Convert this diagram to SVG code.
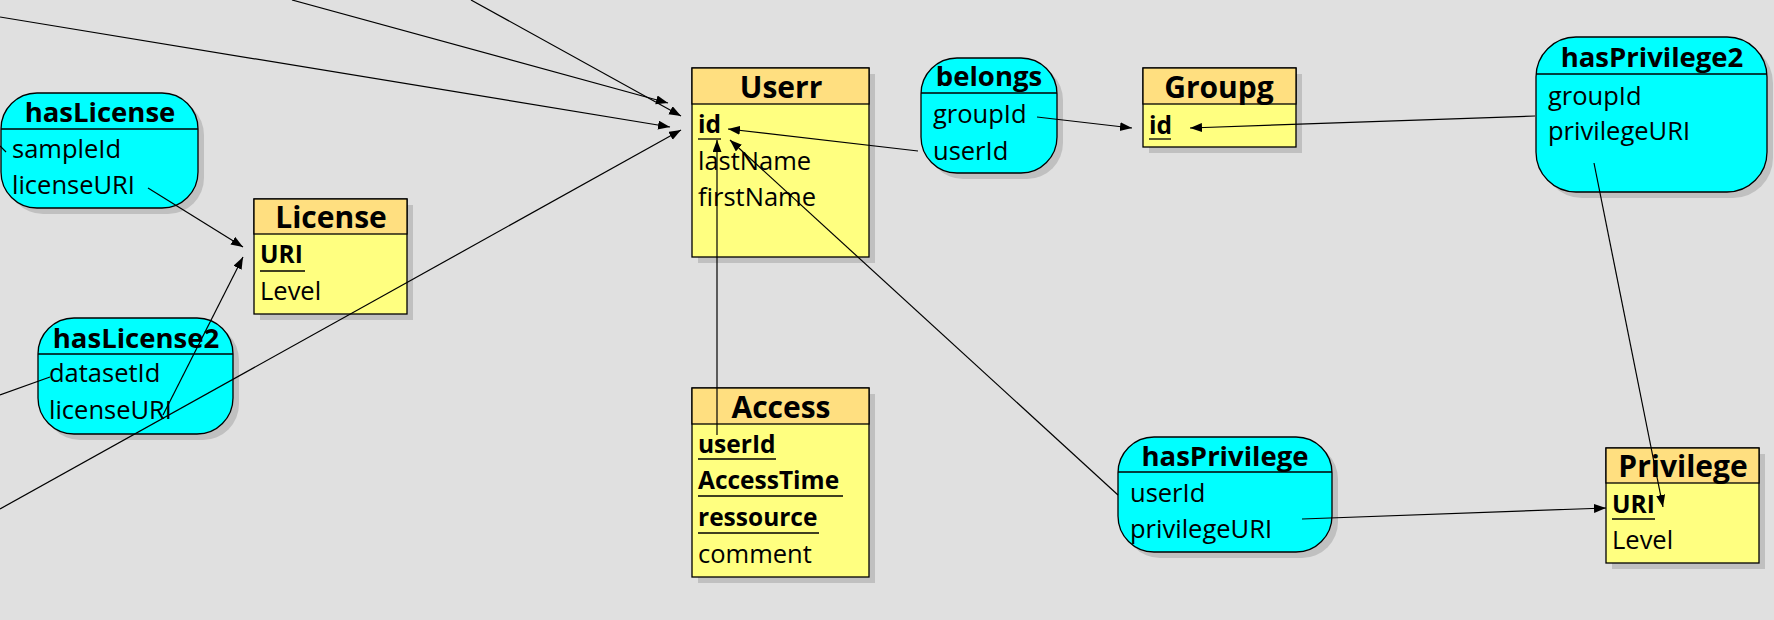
<svg xmlns="http://www.w3.org/2000/svg" width="1774" height="620" viewBox="0 0 1774 620">
<defs>
<marker id="arr" markerUnits="userSpaceOnUse" markerWidth="13" markerHeight="10" refX="12" refY="4.5" orient="auto">
<path d="M0,0 L12,4.5 L0,9 z" fill="#000"/>
</marker>
<style>
.ent-sh{fill:#c0c0c0}
.ent-h{fill:#ffdf80;stroke:#000;stroke-width:1.3}
.ent-b{fill:#ffff80;stroke:#000;stroke-width:1.3}
.rel{fill:#00ffff;stroke:#000;stroke-width:1.3}
.rel-sh{fill:#c0c0c0}
.div{stroke:#000;stroke-width:1.3}
.et{font-family:"Open Sans","Liberation Sans",sans-serif;font-weight:bold;font-size:30px;text-anchor:middle;fill:#000}
.rt{font-family:"Open Sans","Liberation Sans",sans-serif;font-weight:bold;font-size:27.5px;text-anchor:middle;fill:#000}
.f{font-family:"Open Sans","Liberation Sans",sans-serif;font-size:25.5px;fill:#000}
.k{font-family:"Open Sans","Liberation Sans",sans-serif;font-size:24.5px;font-weight:bold;fill:#000}
.ul{stroke:#000;stroke-width:1.3}
.c{stroke:#000;stroke-width:1.2;fill:none}
.ca{stroke:#000;stroke-width:1.2;fill:none;marker-end:url(#arr)}
</style>
</defs>
<rect width="1774" height="620" fill="#e0e0e0"/>

<g id="hasLicense">
<rect class="rel-sh" x="7" y="99" width="197" height="115" rx="36"/>
<rect class="rel" x="1" y="93" width="197" height="115" rx="36"/>
<line class="div" x1="1" y1="129" x2="198" y2="129"/>
<text class="rt" x="100" y="122">hasLicense</text>
<text class="f" x="12" y="158">sampleId</text>
<text class="f" x="12" y="194">licenseURI</text>
</g>

<g id="hasLicense2">
<rect class="rel-sh" x="44" y="324" width="195" height="116" rx="36"/>
<rect class="rel" x="38" y="318" width="195" height="116" rx="36"/>
<line class="div" x1="38" y1="354" x2="233" y2="354"/>
<text class="rt" x="136" y="348">hasLicense2</text>
<text class="f" x="49" y="382">datasetId</text>
<text class="f" x="49" y="419">licenseURI</text>
</g>

<g id="License">
<rect class="ent-sh" x="260" y="205" width="153" height="115"/>
<rect class="ent-b" x="254" y="199" width="153" height="115"/>
<rect class="ent-h" x="254" y="199" width="153" height="35"/>
<text class="et" x="331" y="228">License</text>
<text class="k" x="260" y="263">URI</text>
<line class="ul" x1="260" y1="271" x2="305" y2="271"/>
<text class="f" x="260" y="300">Level</text>
</g>

<g id="Userr">
<rect class="ent-sh" x="698" y="74" width="177" height="189"/>
<rect class="ent-b" x="692" y="68" width="177" height="189"/>
<rect class="ent-h" x="692" y="68" width="177" height="36"/>
<text class="et" x="781" y="98">Userr</text>
<text class="k" x="698" y="133">id</text>
<line class="ul" x1="698" y1="139" x2="721" y2="139"/>
<text class="f" x="698" y="170">lastName</text>
<text class="f" x="698" y="206">firstName</text>
</g>

<g id="belongs">
<rect class="rel-sh" x="927" y="64" width="136" height="115" rx="36"/>
<rect class="rel" x="921" y="58" width="136" height="115" rx="36"/>
<line class="div" x1="921" y1="93" x2="1057" y2="93"/>
<text class="rt" x="989" y="86">belongs</text>
<text class="f" x="933" y="123">groupId</text>
<text class="f" x="933" y="160">userId</text>
</g>

<g id="Groupg">
<rect class="ent-sh" x="1149" y="74" width="153" height="79"/>
<rect class="ent-b" x="1143" y="68" width="153" height="79"/>
<rect class="ent-h" x="1143" y="68" width="153" height="36"/>
<text class="et" x="1219" y="98">Groupg</text>
<text class="k" x="1149" y="134">id</text>
<line class="ul" x1="1149" y1="139" x2="1171" y2="139"/>
</g>

<g id="hasPrivilege2">
<rect class="rel-sh" x="1542" y="43" width="231" height="155" rx="40"/>
<rect class="rel" x="1536" y="37" width="231" height="155" rx="40"/>
<line class="div" x1="1536" y1="74" x2="1767" y2="74"/>
<text class="rt" x="1652" y="67">hasPrivilege2</text>
<text class="f" x="1548" y="105">groupId</text>
<text class="f" x="1548" y="140">privilegeURI</text>
</g>

<g id="Access">
<rect class="ent-sh" x="698" y="394" width="177" height="189"/>
<rect class="ent-b" x="692" y="388" width="177" height="189"/>
<rect class="ent-h" x="692" y="388" width="177" height="36"/>
<text class="et" x="781" y="418">Access</text>
<text class="k" x="698" y="453">userId</text>
<line class="ul" x1="698" y1="459" x2="776" y2="459"/>
<text class="k" x="698" y="489">AccessTime</text>
<line class="ul" x1="698" y1="496" x2="843" y2="496"/>
<text class="k" x="698" y="526">ressource</text>
<line class="ul" x1="698" y1="533" x2="819" y2="533"/>
<text class="f" x="698" y="563">comment</text>
</g>

<g id="hasPrivilege">
<rect class="rel-sh" x="1124" y="443" width="214" height="115" rx="36"/>
<rect class="rel" x="1118" y="437" width="214" height="115" rx="36"/>
<line class="div" x1="1118" y1="472" x2="1332" y2="472"/>
<text class="rt" x="1225" y="466">hasPrivilege</text>
<text class="f" x="1130" y="502">userId</text>
<text class="f" x="1130" y="538">privilegeURI</text>
</g>

<g id="Privilege">
<rect class="ent-sh" x="1612" y="454" width="153" height="115"/>
<rect class="ent-b" x="1606" y="448" width="153" height="115"/>
<rect class="ent-h" x="1606" y="448" width="153" height="35"/>
<text class="et" x="1683" y="477">Privilege</text>
<text class="k" x="1612" y="513">URI</text>
<line class="ul" x1="1612" y1="519" x2="1655" y2="519"/>
<text class="f" x="1612" y="549">Level</text>
</g>

<g id="connectors">
<line class="ca" x1="0" y1="17" x2="670" y2="127"/>
<line class="ca" x1="292" y1="0" x2="668" y2="103"/>
<line class="ca" x1="471" y1="0" x2="681" y2="116"/>
<line class="ca" x1="0" y1="509" x2="681" y2="130"/>
<line class="ca" x1="148" y1="188" x2="243" y2="247"/>
<line class="ca" x1="163" y1="415" x2="243" y2="257"/>
<line class="c" x1="0" y1="395" x2="50" y2="377"/>
<line class="c" x1="0" y1="146" x2="6" y2="152"/>
<line class="ca" x1="918" y1="151" x2="728" y2="129"/>
<line class="ca" x1="1037" y1="117" x2="1132" y2="128"/>
<line class="ca" x1="1535" y1="116" x2="1190" y2="128"/>
<line class="ca" x1="717" y1="435" x2="717" y2="140"/>
<line class="ca" x1="1118" y1="495" x2="730" y2="140"/>
<line class="ca" x1="1302" y1="519" x2="1606" y2="508"/>
<line class="ca" x1="1594" y1="163" x2="1663" y2="507"/>
</g>
</svg>
